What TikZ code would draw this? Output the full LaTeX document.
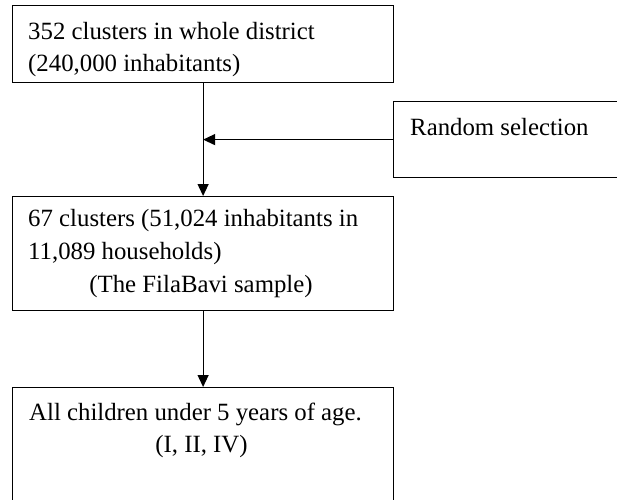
\documentclass[tikz,border=0pt]{standalone}
\usepackage{fontspec}
\setmainfont{Liberation Serif}
\usetikzlibrary{arrows.meta}
\begin{document}
\begin{tikzpicture}[x=1pt,y=-1pt,
  box/.style={draw, line width=1.2pt, inner sep=0pt, anchor=north west},
  txt/.style={anchor=base west, inner sep=0pt, font=\fontsize{24.8}{31}\selectfont},
  arr/.style={line width=1.2pt, -{Triangle[length=12pt,width=11pt]}}]
\useasboundingbox (0,0) rectangle (617,499);
\clip (0,0) rectangle (617,499);
\node[box, minimum width=381pt, minimum height=77pt] (b1) at (12,5) {};
\node[box, minimum width=381pt, minimum height=114pt] (b2) at (12,196) {};
\node[box, minimum width=381pt, minimum height=150pt] (b3) at (12,387) {};
\node[box, minimum width=260pt, minimum height=76pt] (r) at (393,101) {};
\node[txt] (t1a) at (28,39) {352 clusters in whole district};
\node[txt] (t1b) at (28,71) {(240,000 inhabitants)};
\node[txt] (t2a) at (28,226) {67 clusters (51,024 inhabitants in};
\node[txt] (t2b) at (28,259) {11,089 households)};
\node[txt, anchor=base] (t2c) at (201,292) {(The FilaBavi sample)};
\node[txt] (t3a) at (29,420) {All children under 5 years of age.};
\node[txt, anchor=base] (t3b) at (201.5,452) {(I, II, IV)};
\node[txt] (tr) at (410,135) {Random selection};
\coordinate (m) at (b1.south |- r.west);
\draw[arr] (b1.south) -- (b2.north);
\draw[arr] (r.west) -- (m);
\draw[arr] (b2.south) -- (b3.north);
\end{tikzpicture}
\end{document}
